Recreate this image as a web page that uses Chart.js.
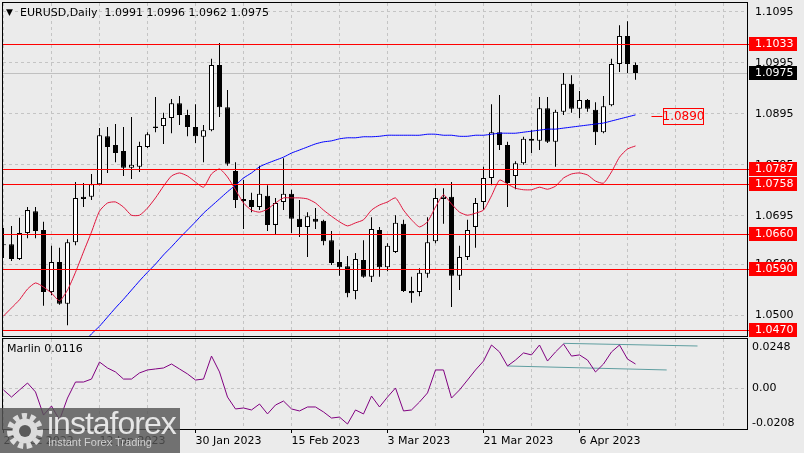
<!DOCTYPE html>
<html>
<head>
<meta charset="utf-8">
<script src="https://cdn.jsdelivr.net/npm/chart.js@4.4.0/dist/chart.umd.min.js"></script>
<style>
  html, body { margin: 0; padding: 0; background: #ebebeb; }
  #wrap { position: relative; width: 804px; height: 453px; overflow: hidden; background: #ebebeb; }
  #main { position: absolute; left: 0; top: 0; }
  #osc { position: absolute; left: 0; top: 337px; }
  #logo { position: absolute; left: 0; top: 408px; width: 180px; height: 45px; background: rgba(85, 85, 85, 0.82); }
  #logo svg { position: absolute; left: 5px; top: 3px; }
  #logo .big { position: absolute; left: 47px; top: -3px; font: 32px "Liberation Sans", sans-serif; color: #e6e6e6; letter-spacing: -1px; }
  #logo .small { position: absolute; left: 48px; top: 28px; font: 11px "Liberation Sans", sans-serif; color: #d0d0d0; }
</style>
</head>
<body>
<div id="wrap">
  <canvas id="main" width="804" height="337"></canvas>
  <canvas id="osc" width="804" height="116"></canvas>
  <div id="logo">
    <svg width="40" height="40" viewBox="0 0 40 40">
      <circle cx="20" cy="20" r="15" fill="none" stroke="#dcdcdc" stroke-width="6" stroke-dasharray="5 3.4"/>
      <circle cx="20" cy="20" r="12.5" fill="#dcdcdc"/>
      <circle cx="20" cy="20" r="6" fill="#5a5a5a"/>
    </svg>
    <span class="big">instaforex</span>
    <span class="small">Instant Forex Trading</span>
  </div>
</div>
<script>
// chart data (daily bars, index 0 = 27 Dec 2022)
const symbol = 'EURUSD,Daily';
const dateLabels = ['27 Dec 2022', '12 Jan 2023', '30 Jan 2023', '15 Feb 2023', '3 Mar 2023', '21 Mar 2023', '6 Apr 2023'];
const dateBars = [0, 12, 24, 36, 48, 60, 72];
const gridBars = [0, 6, 12, 18, 24, 30, 36, 42, 48, 54, 60, 66, 72, 78, 84, 90];

const opens = [1.0637, 1.0639, 1.0610, 1.0661, 1.0704, 1.0667, 1.0545, 1.0604, 1.0522, 1.0643,
  1.0732, 1.0732, 1.0757, 1.0851, 1.0834, 1.0822, 1.0789, 1.0791, 1.0830, 1.0870,
  1.0871, 1.0887, 1.0916, 1.0893, 1.0869, 1.0850, 1.0863, 1.0991, 1.0908, 1.0783,
  1.0728, 1.0726, 1.0712, 1.0734, 1.0677, 1.0722, 1.0738, 1.0689, 1.0673, 1.0689,
  1.0685, 1.0647, 1.0604, 1.0596, 1.0547, 1.0608, 1.0575, 1.0667, 1.0594, 1.0624,
  1.0679, 1.0547, 1.0545, 1.0581, 1.0645, 1.0728, 1.0732, 1.0577, 1.0614, 1.0673,
  1.0722, 1.0769, 1.0859, 1.0834, 1.0773, 1.0798, 1.0846, 1.0842, 1.0906, 1.0840,
  1.0899, 1.0954, 1.0905, 1.0922, 1.0903, 1.0859, 1.0912, 1.0993, 1.1048, 1.0991];
const highs = [1.0671, 1.0675, 1.0691, 1.0712, 1.0712, 1.0683, 1.0636, 1.0632, 1.0649, 1.0761,
  1.0759, 1.0777, 1.0867, 1.0869, 1.0875, 1.0869, 1.0889, 1.0840, 1.0859, 1.0928,
  1.0897, 1.0924, 1.0930, 1.0903, 1.0914, 1.0873, 1.1003, 1.1034, 1.0942, 1.0800,
  1.0765, 1.0740, 1.0793, 1.0755, 1.0730, 1.0808, 1.0746, 1.0726, 1.0702, 1.0710,
  1.0687, 1.0665, 1.0628, 1.0616, 1.0622, 1.0647, 1.0692, 1.0673, 1.0641, 1.0696,
  1.0687, 1.0575, 1.0592, 1.0692, 1.0749, 1.0749, 1.0761, 1.0636, 1.0687, 1.0730,
  1.0791, 1.0914, 1.0932, 1.0840, 1.0802, 1.0850, 1.0863, 1.0928, 1.0928, 1.0903,
  1.0975, 1.0971, 1.0940, 1.0924, 1.0918, 1.0930, 1.1003, 1.1069, 1.1077, 1.0996];
const lows = [1.0612, 1.0606, 1.0608, 1.0651, 1.0651, 1.0518, 1.0539, 1.0520, 1.0480, 1.0637,
  1.0712, 1.0726, 1.0755, 1.0779, 1.0800, 1.0773, 1.0767, 1.0781, 1.0828, 1.0859,
  1.0836, 1.0857, 1.0873, 1.0851, 1.0838, 1.0800, 1.0861, 1.0889, 1.0793, 1.0710,
  1.0669, 1.0702, 1.0706, 1.0665, 1.0657, 1.0706, 1.0661, 1.0653, 1.0614, 1.0669,
  1.0637, 1.0598, 1.0577, 1.0535, 1.0531, 1.0573, 1.0565, 1.0575, 1.0586, 1.0622,
  1.0545, 1.0524, 1.0537, 1.0573, 1.0641, 1.0679, 1.0516, 1.0549, 1.0608, 1.0632,
  1.0706, 1.0755, 1.0824, 1.0712, 1.0747, 1.0795, 1.0818, 1.0824, 1.0838, 1.0791,
  1.0893, 1.0897, 1.0887, 1.0899, 1.0834, 1.0857, 1.0910, 1.0977, 1.0975, 1.0962];
const closes = [1.0639, 1.0610, 1.0661, 1.0706, 1.0665, 1.0545, 1.0604, 1.0522, 1.0643, 1.0730,
  1.0728, 1.0757, 1.0853, 1.0830, 1.0818, 1.0789, 1.0795, 1.0832, 1.0855, 1.0867,
  1.0887, 1.0916, 1.0893, 1.0869, 1.0851, 1.0863, 1.0991, 1.0908, 1.0797, 1.0726,
  1.0724, 1.0712, 1.0738, 1.0677, 1.0720, 1.0738, 1.0689, 1.0673, 1.0694, 1.0683,
  1.0645, 1.0602, 1.0594, 1.0543, 1.0610, 1.0575, 1.0669, 1.0594, 1.0636, 1.0681,
  1.0547, 1.0543, 1.0583, 1.0643, 1.0730, 1.0732, 1.0577, 1.0614, 1.0667, 1.0720,
  1.0769, 1.0859, 1.0834, 1.0759, 1.0798, 1.0846, 1.0842, 1.0906, 1.0840, 1.0899,
  1.0954, 1.0905, 1.0922, 1.0905, 1.0859, 1.0910, 1.0993, 1.1048, 1.0993, 1.0975];

// blue moving average (starts below the pane)
const maSlow = [null, null, null, null, null, null, null, null, null, null,
  1.0445, 1.0463, 1.0478, 1.0496, 1.0514, 1.0531, 1.0549, 1.0567, 1.0584, 1.0600,
  1.0618, 1.0634, 1.0651, 1.0667, 1.0683, 1.0700, 1.0714, 1.0728, 1.0742, 1.0755,
  1.0769, 1.0779, 1.0791, 1.0798, 1.0804, 1.0810, 1.0818, 1.0824, 1.0830, 1.0836,
  1.0840, 1.0842, 1.0846, 1.0848, 1.0848, 1.0850, 1.0850, 1.0851, 1.0853, 1.0853,
  1.0853, 1.0853, 1.0853, 1.0855, 1.0855, 1.0853, 1.0853, 1.0851, 1.0851, 1.0853,
  1.0853, 1.0855, 1.0857, 1.0857, 1.0857, 1.0859, 1.0861, 1.0863, 1.0865, 1.0865,
  1.0867, 1.0869, 1.0871, 1.0873, 1.0875, 1.0877, 1.0881, 1.0885, 1.0889, 1.0893];
// crimson moving average
const maFast = [1.0498, 1.0514, 1.0530, 1.0551, 1.0563, 1.0555, 1.0543, 1.0528, 1.0549, 1.0584,
  1.0624, 1.0663, 1.0704, 1.0720, 1.0722, 1.0712, 1.0696, 1.0696, 1.0710, 1.0730,
  1.0753, 1.0773, 1.0779, 1.0773, 1.0761, 1.0751, 1.0777, 1.0787, 1.0771, 1.0746,
  1.0720, 1.0706, 1.0702, 1.0708, 1.0720, 1.0730, 1.0730, 1.0730, 1.0728, 1.0720,
  1.0706, 1.0694, 1.0683, 1.0675, 1.0681, 1.0687, 1.0706, 1.0716, 1.0722, 1.0730,
  1.0706, 1.0687, 1.0673, 1.0683, 1.0712, 1.0736, 1.0718, 1.0702, 1.0696, 1.0700,
  1.0706, 1.0734, 1.0765, 1.0757, 1.0749, 1.0746, 1.0746, 1.0751, 1.0747, 1.0753,
  1.0769, 1.0777, 1.0779, 1.0775, 1.0763, 1.0759, 1.0781, 1.0810, 1.0826, 1.0832];

const marlin = [-0.0010, -0.0053, -0.0010, 0.0032, -0.0022, -0.0162, -0.0107, -0.0192, -0.0059, 0.0038,
  0.0038, 0.0056, 0.0159, 0.0123, 0.0099, 0.0056, 0.0056, 0.0093, 0.0111, 0.0117,
  0.0123, 0.0147, 0.0117, 0.0087, 0.0050, 0.0056, 0.0195, 0.0099, -0.0053, -0.0125,
  -0.0119, -0.0131, -0.0095, -0.0155, -0.0101, -0.0077, -0.0125, -0.0137, -0.0113, -0.0113,
  -0.0143, -0.0180, -0.0174, -0.0216, -0.0131, -0.0155, -0.0047, -0.0113, -0.0053, 0.0002,
  -0.0137, -0.0131, -0.0083, -0.0028, 0.0111, 0.0111, -0.0059, -0.0010, 0.0050, 0.0111,
  0.0165, 0.0262, 0.0220, 0.0135, 0.0171, 0.0214, 0.0202, 0.0262, 0.0165, 0.0220,
  0.0268, 0.0195, 0.0202, 0.0171, 0.0099, 0.0147, 0.0220, 0.0262, 0.0177, 0.0147];
const marlinValue = 0.0116;
const upperTrend = [{ x: 70, y: 0.0272 }, { x: 86.75, y: 0.0256 }];
const lowerTrend = [{ x: 63, y: 0.0135 }, { x: 82.9, y: 0.0111 }];

const levels = [1.1033, 1.0787, 1.0758, 1.0660, 1.0590, 1.0470];
const maLabel = 1.0890;
const priceTicks = [1.1095, 1.0995, 1.0895, 1.0795, 1.0695, 1.0600, 1.0500];
const marlinTicks = [0.0248, 0, -0.0208];

Chart.defaults.font.family = '"DejaVu Sans", sans-serif';
Chart.defaults.font.size = 11;
Chart.defaults.color = '#000000';
Chart.defaults.animation = false;

const xMin = -0.0625, xMax = 92.9375;
const gridColor = '#c4c4c4';
const last = closes.length - 1;

function fixedTicks(list) {
  return scale => { scale.ticks = list.map(v => ({ value: v })); };
}

// keep Chart.js from reserving room for overflowing tick labels
function noPad(scale) {
  scale.paddingTop = 0;
  scale.paddingBottom = 0;
  scale.paddingLeft = 0;
  scale.paddingRight = 0;
}

function frame(chart) {
  const { ctx, chartArea: a } = chart;
  ctx.save();
  ctx.strokeStyle = '#000000';
  ctx.lineWidth = 1;
  ctx.strokeRect(a.left - 0.5, a.top - 0.5, a.right - a.left + 1, a.bottom - a.top + 1);
  ctx.restore();
}

const mainLayer = {
  id: 'mainLayer',
  beforeDatasetsDraw(chart) {
    const { ctx, chartArea: a, scales: { y } } = chart;
    const yc = Math.round(y.getPixelForValue(closes[last])) + 0.5;
    ctx.save();
    ctx.strokeStyle = '#c0c0c0';
    ctx.lineWidth = 1;
    ctx.beginPath();
    ctx.moveTo(a.left, yc);
    ctx.lineTo(a.right, yc);
    ctx.stroke();
    ctx.restore();
  },
  afterDatasetsDraw(chart) {
    const { ctx, chartArea: a, scales: { y } } = chart;
    ctx.save();
    ctx.strokeStyle = '#ff0000';
    ctx.lineWidth = 1;
    levels.forEach(v => {
      const yy = Math.round(y.getPixelForValue(v)) + 0.5;
      ctx.beginPath();
      ctx.moveTo(a.left, yy);
      ctx.lineTo(a.right + 2, yy);
      ctx.stroke();
    });
    ctx.restore();
  },
  afterDraw(chart) {
    const { ctx, chartArea: a, scales: { x, y } } = chart;
    frame(chart);
    ctx.save();
    ctx.font = '11px "DejaVu Sans"';
    ctx.textBaseline = 'middle';

    // level tags on the price axis
    const tag = (v, fill) => {
      const yy = Math.round(y.getPixelForValue(v));
      ctx.fillStyle = fill;
      ctx.fillRect(a.right + 2, yy - 7, 48, 14);
      ctx.fillStyle = '#ffffff';
      ctx.textAlign = 'left';
      ctx.fillText(v.toFixed(4), a.right + 8, yy + 0.5);
    };
    levels.forEach(v => tag(v, '#ff0000'));
    tag(closes[last], '#000000');

    // moving average value label
    const my = Math.round(y.getPixelForValue(maLabel)) + 0.5;
    const mx = x.getPixelForValue(81);
    ctx.strokeStyle = '#ff0000';
    ctx.lineWidth = 1;
    ctx.beginPath();
    ctx.moveTo(mx, my);
    ctx.lineTo(mx + 11, my);
    ctx.stroke();
    ctx.strokeRect(Math.round(mx + 11) + 0.5, my - 8, 40, 16);
    ctx.fillStyle = '#ff0000';
    ctx.textAlign = 'center';
    ctx.font = '12px "DejaVu Sans"';
    ctx.fillText(maLabel.toFixed(4), Math.round(mx + 11) + 20.5, my + 0.5);

    // header
    ctx.fillStyle = '#000000';
    ctx.textAlign = 'left';
    ctx.font = '9px "DejaVu Sans"';
    ctx.fillText('▼', 6, 13);
    ctx.font = '11px "DejaVu Sans"';
    const ohlc = [opens[last], highs[last], lows[last], closes[last]].map(v => v.toFixed(4)).join(' ');
    ctx.fillText(symbol + '  ' + ohlc, 20, 13);
    ctx.restore();
  }
};

const oscLayer = {
  id: 'oscLayer',
  afterDraw(chart) {
    const { ctx } = chart;
    frame(chart);
    ctx.save();
    ctx.font = '11px "DejaVu Sans"';
    ctx.textBaseline = 'middle';
    ctx.fillStyle = '#000000';
    ctx.fillText('Marlin ' + marlinValue.toFixed(4), 7, 12);
    ctx.restore();
  }
};

const bars = closes.map((c, i) => i);

new Chart(document.getElementById('main'), {
  type: 'bar',
  data: {
    datasets: [
      {
        type: 'line', label: 'MA red', order: 1,
        data: bars.map(i => ({ x: i, y: maFast[i] })),
        borderColor: '#e0143c', borderWidth: 1, pointRadius: 0, tension: 0.2, clip: 0
      },
      {
        type: 'line', label: 'MA blue', order: 2,
        data: bars.map(i => ({ x: i, y: maSlow[i] })),
        borderColor: '#0000ff', borderWidth: 1, pointRadius: 0, tension: 0.2, clip: 0
      },
      {
        label: 'bodies', order: 3,
        data: bars.map(i => ({ x: i, y: [opens[i], closes[i]] })),
        backgroundColor: bars.map(i => closes[i] >= opens[i] ? '#ffffff' : '#000000'),
        borderColor: '#000000', borderWidth: 1, borderSkipped: false,
        barThickness: 5, grouped: false, inflateAmount: 0, clip: 0
      },
      {
        label: 'wicks', order: 4,
        data: bars.map(i => ({ x: i, y: [lows[i], highs[i]] })),
        backgroundColor: '#000000', borderWidth: 0,
        barThickness: 1, grouped: false, inflateAmount: 0, clip: 0
      }
    ]
  },
  options: {
    responsive: false,
    animation: false,
    layout: { padding: { left: 3, top: 3, right: 0, bottom: 1 } },
    plugins: { legend: { display: false }, tooltip: { enabled: false } },
    scales: {
      x: {
        type: 'linear', min: xMin, max: xMax, bounds: 'data', offset: false,
        afterBuildTicks: fixedTicks(gridBars),
        afterFit: s => { s.height = 0; noPad(s); },
        ticks: { display: false },
        grid: { color: gridColor, drawTicks: false, offset: false },
        border: { display: false, dash: [3, 3] }
      },
      y: {
        type: 'linear', position: 'right', bounds: 'data',
        min: 1.045883, max: 1.111267,
        afterBuildTicks: fixedTicks(priceTicks),
        afterFit: s => { s.width = 57; noPad(s); },
        ticks: { autoSkip: false, padding: 8, callback: v => v.toFixed(4) },
        grid: { color: gridColor, drawTicks: false },
        border: { display: false, dash: [3, 3] }
      }
    }
  },
  plugins: [mainLayer]
});

new Chart(document.getElementById('osc'), {
  type: 'line',
  data: {
    datasets: [
      {
        label: 'Marlin',
        data: bars.map(i => ({ x: i, y: marlin[i] })),
        borderColor: '#800080', borderWidth: 1, pointRadius: 0, clip: 0
      },
      {
        label: 'upper', data: upperTrend,
        borderColor: '#5f9ea0', borderWidth: 1, pointRadius: 0, clip: 0
      },
      {
        label: 'lower', data: lowerTrend,
        borderColor: '#5f9ea0', borderWidth: 1, pointRadius: 0, clip: 0
      }
    ]
  },
  options: {
    responsive: false,
    animation: false,
    layout: { padding: { left: 3, top: 2, right: 0, bottom: 0 } },
    plugins: { legend: { display: false }, tooltip: { enabled: false } },
    scales: {
      x: {
        type: 'linear', min: xMin, max: xMax, bounds: 'data', offset: false,
        afterBuildTicks: fixedTicks(gridBars),
        afterFit: s => { s.height = 24; noPad(s); },
        ticks: {
          autoSkip: false, maxRotation: 0, minRotation: 0, align: 'start', padding: 2,
          callback: v => { const k = dateBars.indexOf(v); return k >= 0 ? dateLabels[k] : ''; }
        },
        grid: {
          color: gridColor, tickLength: 4,
          tickColor: c => (c.tick && dateBars.includes(c.tick.value)) ? '#000000' : 'rgba(0,0,0,0)'
        },
        border: { display: false, dash: [3, 3] }
      },
      y: {
        type: 'linear', position: 'right', bounds: 'data',
        min: -0.02462, max: 0.02983,
        afterBuildTicks: fixedTicks(marlinTicks),
        afterFit: s => { s.width = 57; noPad(s); },
        ticks: { autoSkip: false, padding: 5, callback: v => v === 0 ? '0.00' : v.toFixed(4) },
        grid: {
          drawTicks: false,
          color: c => (c.tick && c.tick.value === 0) ? gridColor : 'rgba(0,0,0,0)'
        },
        border: { display: false, dash: [3, 3] }
      }
    }
  },
  plugins: [oscLayer]
});
</script>
</body>
</html>
